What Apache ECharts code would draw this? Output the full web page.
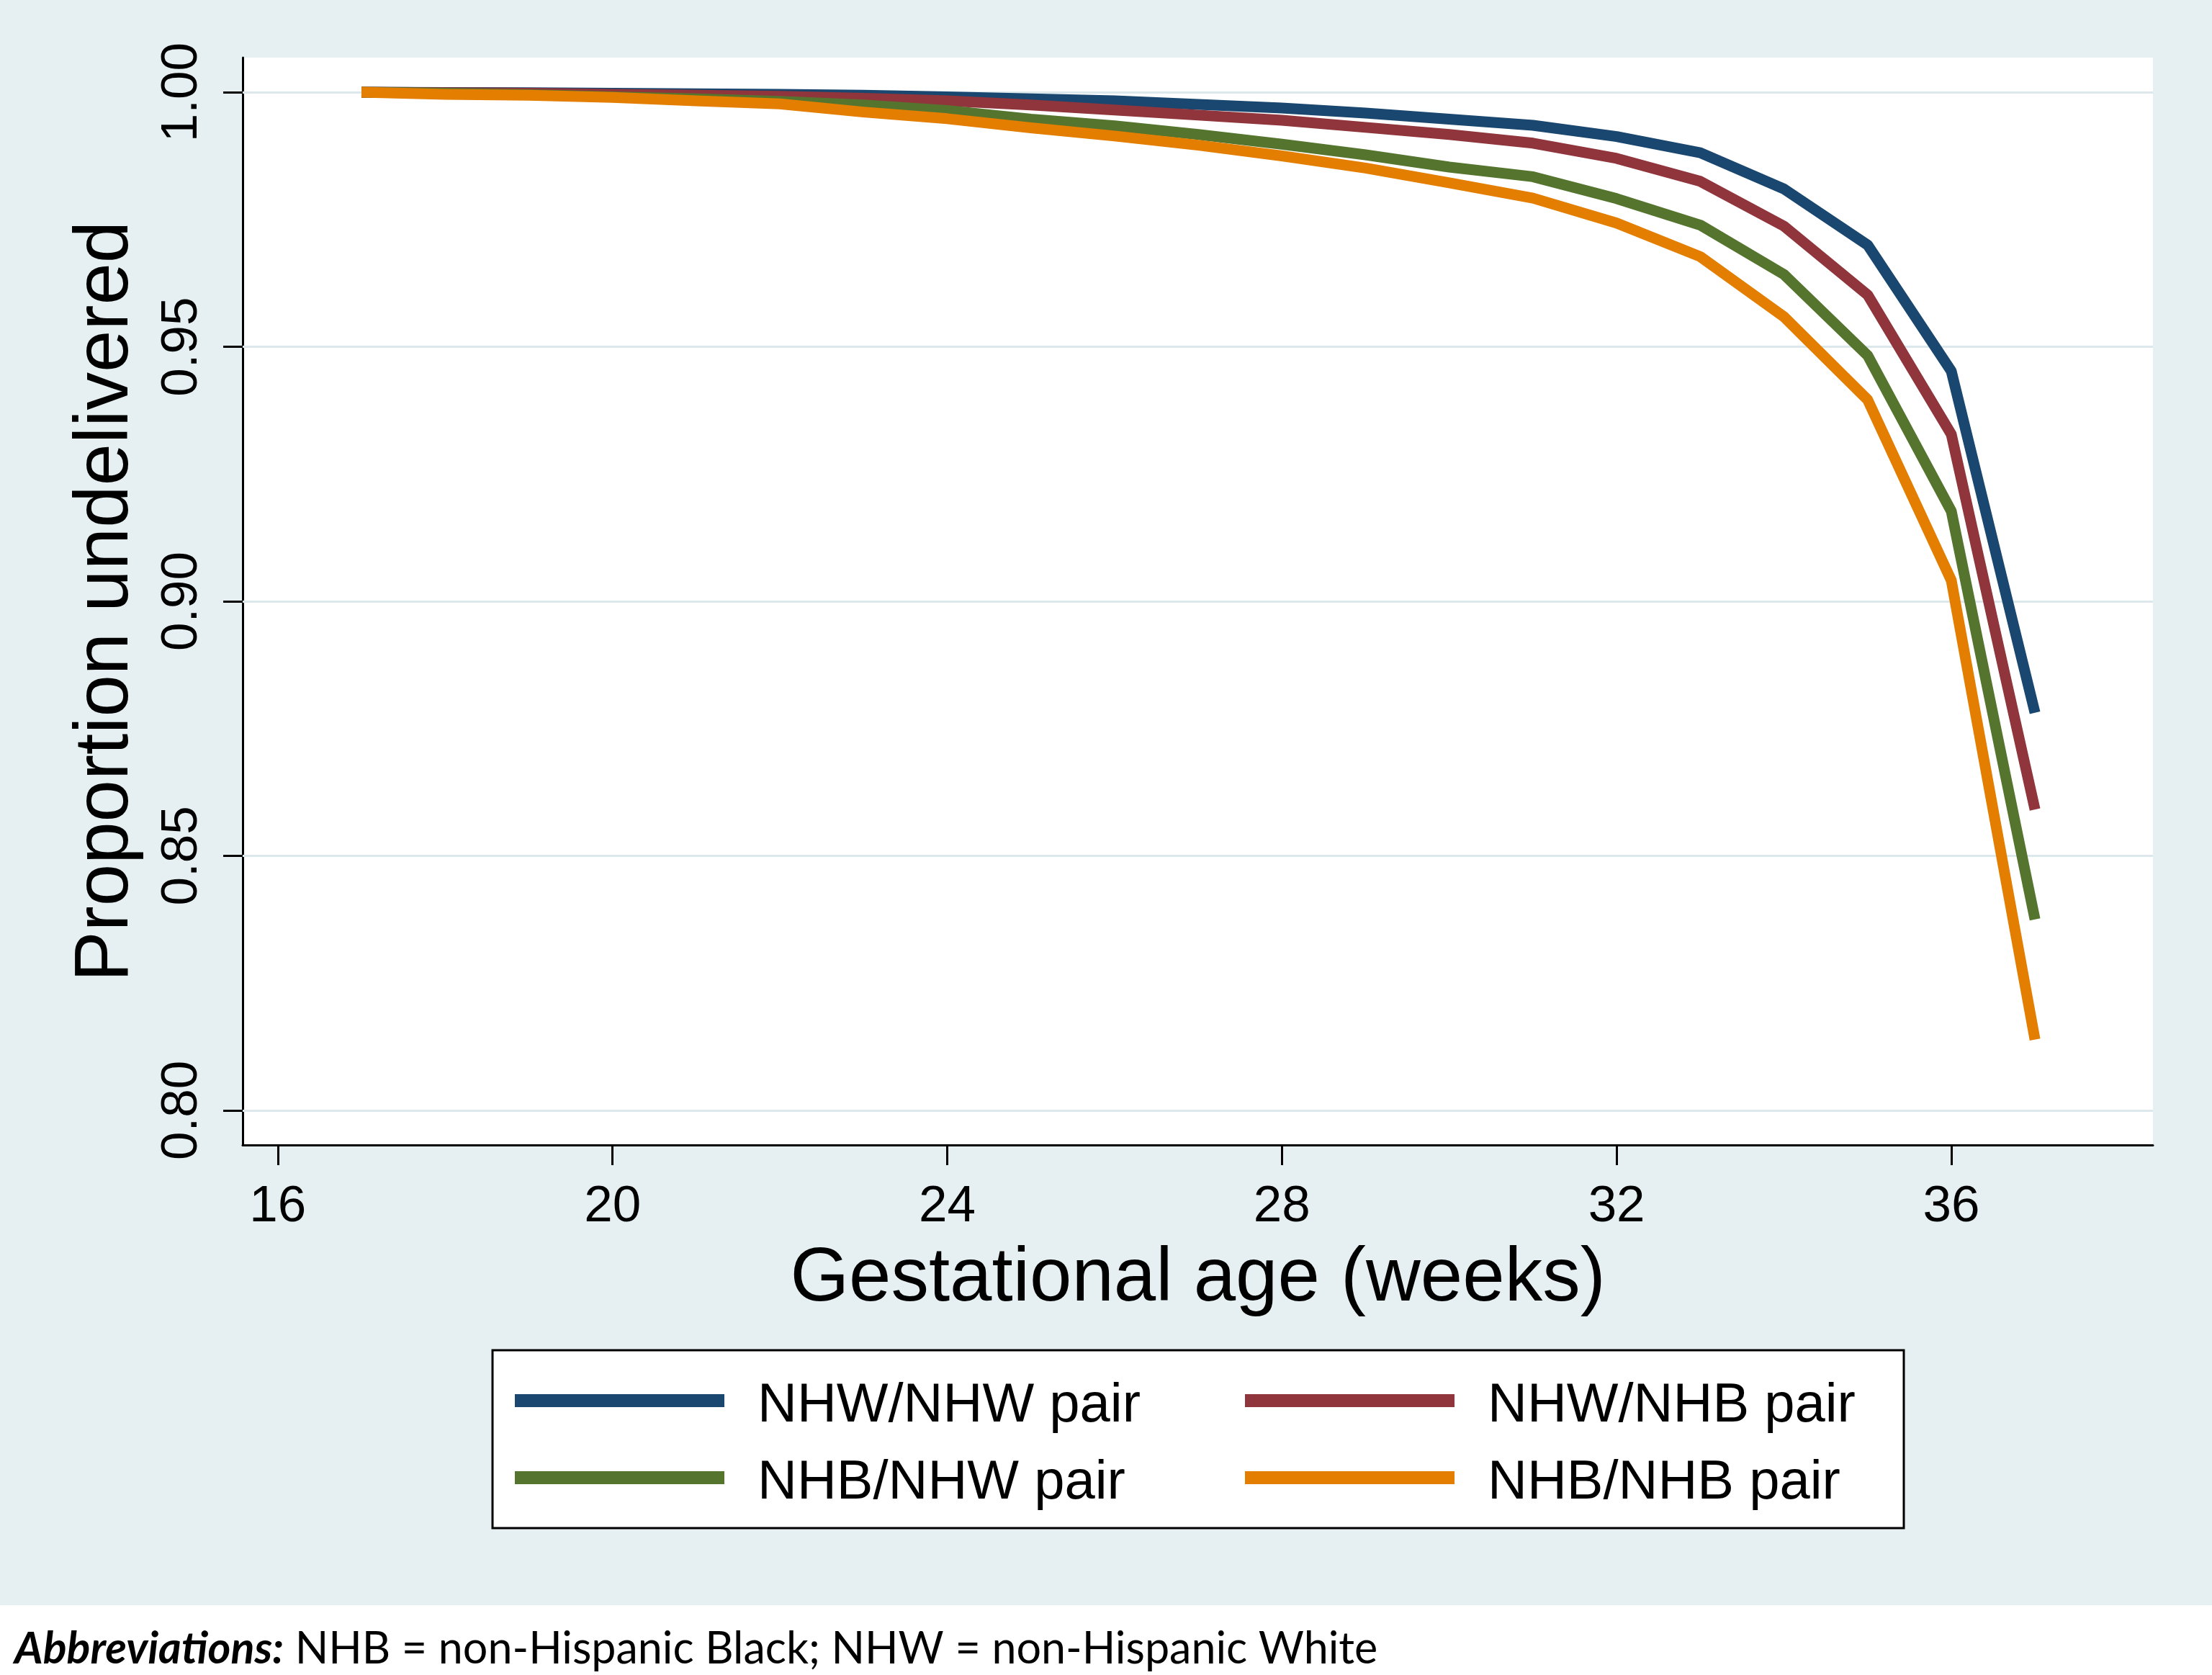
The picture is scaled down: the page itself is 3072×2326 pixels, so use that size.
<!DOCTYPE html>
<html>
<head>
<meta charset="utf-8">
<script src="https://cdn.jsdelivr.net/npm/echarts/dist/echarts.min.js"></script>
<style>
html,body{margin:0;padding:0;background:#fff;}
#chart{width:3072px;height:2326px;}
</style>
</head>
<body>
<div id="chart"></div>
<script>
// ---- data ----
const weeks = [17,18,19,20,21,22,23,24,25,26,27,28,29,30,31,32,33,34,35,36,37];
const nhwNhw = [1.0000,0.99995,0.9999,0.9998,0.9997,0.9996,0.9994,0.9991,0.9987,0.9983,0.9976,0.9969,0.9959,0.9947,0.9935,0.9913,0.9881,0.9810,0.9700,0.9452,0.8781];
const nhwNhb = [1.0000,0.9999,0.9998,0.9996,0.9994,0.9992,0.9988,0.9983,0.9975,0.9965,0.9955,0.9945,0.9931,0.9917,0.9900,0.9870,0.9825,0.9737,0.9602,0.9328,0.8591];
const nhbNhw = [1.0000,0.9998,0.9995,0.9991,0.9987,0.9982,0.9975,0.9964,0.9947,0.9934,0.9917,0.9898,0.9877,0.9853,0.9834,0.9791,0.9739,0.9642,0.9483,0.9177,0.8375];
const nhbNhb = [1.0000,0.9996,0.9994,0.9990,0.9983,0.9977,0.9961,0.9948,0.9930,0.9914,0.9896,0.9875,0.9851,0.9822,0.9792,0.9743,0.9677,0.9559,0.9396,0.9041,0.8139];
const seriesNames = ['NHW/NHW pair','NHW/NHB pair','NHB/NHW pair','NHB/NHB pair'];
const xTicks = [16,20,24,28,32,36];
const yTicks = [0.80,0.85,0.90,0.95,1.00];
const xTitle = 'Gestational age (weeks)';
const yTitle = 'Proportion undelivered';
const footnoteBold = 'Abbreviations:';
const footnoteRest = ' NHB = non-Hispanic Black; NHW = non-Hispanic White';

// ---- styling ----
const FONT = '"Liberation Sans", Arial, Helvetica, sans-serif';
const colors = ['#1a476f','#90353b','#55752f','#e37e00'];
const bg = '#e6eff1';

const chart = echarts.init(document.getElementById('chart'), null, {renderer:'canvas'});

const valueSets = [nhwNhw, nhwNhb, nhbNhw, nhbNhb];
const lineSeries = valueSets.map((vals, i) => ({
  name: seriesNames[i],
  type: 'line',
  data: weeks.map((w, j) => [w, vals[j]]),
  showSymbol: false,
  symbol: 'none',
  color: colors[i],
  lineStyle: {width: 15, color: colors[i], join: 'round'},
  z: 2,
  animation: false
}));

const gridSeries = {
  name: '__grid',
  type: 'line',
  data: [],
  silent: true,
  animation: false,
  markLine: {
    silent: true,
    z: 1,
    symbol: ['none','none'],
    label: {show: false},
    lineStyle: {color: '#dde8ec', width: 3, type: 'solid'},
    emphasis: {disabled: true},
    animation: false,
    data: yTicks.map(v => ({yAxis: v}))
  }
};

const legendCommon = {
  orient: 'vertical',
  itemWidth: 291,
  itemHeight: 18,
  itemGap: 15,
  icon: 'rect',
  padding: 0,
  selectedMode: false,
  z: 10,
  itemStyle: {borderWidth: 0},
  formatter: '{t|{name}}',
  textStyle: {
    fontSize: 76, fontFamily: FONT, color: '#000', lineHeight: 76, padding: [0,0,0,41],
    rich: {t: {fontSize: 76, fontFamily: FONT, color: '#000', lineHeight: 76, padding: [16,0,0,0]}}
  }
};

const option = {
  backgroundColor: bg,
  animation: false,
  grid: {
    left: 337, top: 80, width: 2653, height: 1510,
    show: true, backgroundColor: '#ffffff', borderWidth: 0,
    containLabel: false
  },
  xAxis: {
    type: 'value',
    min: 15.58, max: 38.41,
    name: xTitle,
    nameLocation: 'middle',
    nameGap: 135,
    nameTextStyle: {fontSize: 105, fontFamily: FONT, color: '#000'},
    axisLine: {show: true, onZero: false, lineStyle: {color: '#000', width: 3}},
    axisTick: {show: true, length: 28, lineStyle: {color: '#000', width: 3}, customValues: xTicks},
    axisLabel: {show: true, customValues: xTicks, fontSize: 71, fontFamily: FONT, color: '#000', margin: 51},
    splitLine: {show: false}
  },
  yAxis: {
    type: 'value',
    min: 0.7932, max: 1.0068,
    name: yTitle,
    nameLocation: 'middle',
    nameGap: 136,
    nameRotate: 90,
    nameTextStyle: {fontSize: 105, fontFamily: FONT, color: '#000'},
    axisLine: {show: true, onZero: false, lineStyle: {color: '#000', width: 3}},
    axisTick: {show: true, length: 27, lineStyle: {color: '#000', width: 3}, customValues: yTicks},
    axisLabel: {show: true, customValues: yTicks, rotate: 90, fontSize: 71, fontFamily: FONT, color: '#000', margin: 48,
      formatter: v => Number(v).toFixed(2)},
    splitLine: {show: false}
  },
  legend: [
    Object.assign({}, legendCommon, {left: 715, top: 1899, data: [seriesNames[0], seriesNames[2]]}),
    Object.assign({}, legendCommon, {left: 1729, top: 1899, data: [seriesNames[1], seriesNames[3]]})
  ],
  graphic: [
    {type: 'rect', z: 0, silent: true, shape: {x: 0, y: 2229, width: 3072, height: 97}, style: {fill: '#ffffff'}},
    {type: 'rect', z: 0, silent: true, shape: {x: 684, y: 1875, width: 1960, height: 247}, style: {fill: '#ffffff', stroke: '#000', lineWidth: 3}},
    {type: 'text', z: 1, silent: true, x: 20, y: 2290,
      style: {
        text: '{b|' + footnoteBold + '}{r|' + footnoteRest + '}',
        verticalAlign: 'middle', textAlign: 'left',
        rich: {
          b: {fontFamily: 'Lato, "Open Sans", sans-serif', fontSize: 61, fontWeight: 'bold', fontStyle: 'italic', fill: '#000'},
          r: {fontFamily: 'Lato, "Open Sans", sans-serif', fontSize: 61, fill: '#000'}
        }
      }}
  ],
  series: [gridSeries].concat(lineSeries)
};
chart.setOption(option);
</script>
</body>
</html>
